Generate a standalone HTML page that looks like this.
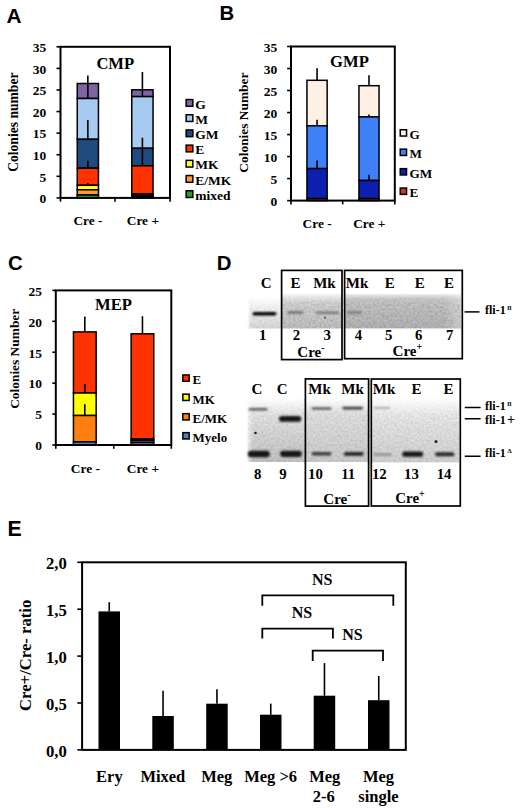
<!DOCTYPE html>
<html><head><meta charset="utf-8"><title>Figure</title>
<style>html,body{margin:0;padding:0;background:#fff;} svg{display:block;}</style>
</head><body>
<svg width="520" height="808" viewBox="0 0 520 808">
<rect x="0" y="0" width="520" height="808" fill="#fff"/>
<text x="6.6" y="22.6" font-size="20.8" text-anchor="start" style="font-family:'Liberation Sans',sans-serif;font-weight:bold" >A</text>
<text x="219.5" y="19.8" font-size="20.4" text-anchor="start" style="font-family:'Liberation Sans',sans-serif;font-weight:bold" >B</text>
<text x="8.0" y="269.7" font-size="20.4" text-anchor="start" style="font-family:'Liberation Sans',sans-serif;font-weight:bold" >C</text>
<text x="216.8" y="269.9" font-size="20.4" text-anchor="start" style="font-family:'Liberation Sans',sans-serif;font-weight:bold" >D</text>
<text x="7.4" y="535.5" font-size="21.3" text-anchor="start" style="font-family:'Liberation Sans',sans-serif;font-weight:bold" >E</text>
<rect x="77.25" y="83.5" width="21.2" height="15.0" fill="#8064A2" stroke="#000" stroke-width="1.5"/>
<rect x="77.25" y="98.5" width="21.2" height="40.8" fill="#A6CAF0" stroke="#000" stroke-width="1.5"/>
<rect x="77.25" y="139.3" width="21.2" height="28.9" fill="#1F4B7F" stroke="#000" stroke-width="1.5"/>
<rect x="77.25" y="168.2" width="21.2" height="17.1" fill="#FF3300" stroke="#000" stroke-width="1.5"/>
<rect x="77.25" y="185.3" width="21.2" height="4.5" fill="#FFFF33" stroke="#000" stroke-width="1.5"/>
<rect x="77.25" y="189.8" width="21.2" height="5.2" fill="#FF9933" stroke="#000" stroke-width="1.5"/>
<rect x="77.25" y="195" width="21.2" height="2.9" fill="#2E9A2E" stroke="#000" stroke-width="1.5"/>
<line x1="87.85" y1="75.4" x2="87.85" y2="98.5" stroke="#000" stroke-width="1.6"/>
<line x1="87.85" y1="120" x2="87.85" y2="139.3" stroke="#000" stroke-width="1.6"/>
<line x1="87.85" y1="160.8" x2="87.85" y2="168.2" stroke="#000" stroke-width="1.6"/>
<line x1="87.85" y1="183" x2="87.85" y2="185.3" stroke="#000" stroke-width="1.6"/>
<rect x="131.75" y="89.8" width="21.3" height="6.8" fill="#8064A2" stroke="#000" stroke-width="1.5"/>
<rect x="131.75" y="96.6" width="21.3" height="51.7" fill="#A6CAF0" stroke="#000" stroke-width="1.5"/>
<rect x="131.75" y="148.3" width="21.3" height="17.5" fill="#1F4B7F" stroke="#000" stroke-width="1.5"/>
<rect x="131.75" y="165.8" width="21.3" height="28.2" fill="#FF3300" stroke="#000" stroke-width="1.5"/>
<rect x="131.75" y="194" width="21.3" height="1.5" fill="#FFFF33" stroke="#000" stroke-width="1.5"/>
<rect x="131.75" y="195.5" width="21.3" height="1.3" fill="#FF9933" stroke="#000" stroke-width="1.5"/>
<rect x="131.75" y="196.8" width="21.3" height="1.1" fill="#2E9A2E" stroke="#000" stroke-width="1.5"/>
<line x1="142.4" y1="72" x2="142.4" y2="96.6" stroke="#000" stroke-width="1.6"/>
<line x1="142.4" y1="137.7" x2="142.4" y2="165.8" stroke="#000" stroke-width="1.6"/>
<rect x="60.5" y="46.8" width="109.5" height="151.10000000000002" fill="none" stroke="#000" stroke-width="2"/>
<line x1="56.5" y1="197.9" x2="60.5" y2="197.9" stroke="#000" stroke-width="1.6"/>
<text x="46.2" y="203.2" font-size="13.5" text-anchor="end" style="font-family:'Liberation Serif',serif;font-weight:bold" >0</text>
<line x1="56.5" y1="176.31" x2="60.5" y2="176.31" stroke="#000" stroke-width="1.6"/>
<text x="46.2" y="181.61" font-size="13.5" text-anchor="end" style="font-family:'Liberation Serif',serif;font-weight:bold" >5</text>
<line x1="56.5" y1="154.73" x2="60.5" y2="154.73" stroke="#000" stroke-width="1.6"/>
<text x="46.2" y="160.03" font-size="13.5" text-anchor="end" style="font-family:'Liberation Serif',serif;font-weight:bold" >10</text>
<line x1="56.5" y1="133.14" x2="60.5" y2="133.14" stroke="#000" stroke-width="1.6"/>
<text x="46.2" y="138.44" font-size="13.5" text-anchor="end" style="font-family:'Liberation Serif',serif;font-weight:bold" >15</text>
<line x1="56.5" y1="111.56" x2="60.5" y2="111.56" stroke="#000" stroke-width="1.6"/>
<text x="46.2" y="116.86" font-size="13.5" text-anchor="end" style="font-family:'Liberation Serif',serif;font-weight:bold" >20</text>
<line x1="56.5" y1="89.97" x2="60.5" y2="89.97" stroke="#000" stroke-width="1.6"/>
<text x="46.2" y="95.27" font-size="13.5" text-anchor="end" style="font-family:'Liberation Serif',serif;font-weight:bold" >25</text>
<line x1="56.5" y1="68.39" x2="60.5" y2="68.39" stroke="#000" stroke-width="1.6"/>
<text x="46.2" y="73.69" font-size="13.5" text-anchor="end" style="font-family:'Liberation Serif',serif;font-weight:bold" >30</text>
<line x1="56.5" y1="46.8" x2="60.5" y2="46.8" stroke="#000" stroke-width="1.6"/>
<text x="46.2" y="52.1" font-size="13.5" text-anchor="end" style="font-family:'Liberation Serif',serif;font-weight:bold" >35</text>
<line x1="60.5" y1="197.9" x2="60.5" y2="201.7" stroke="#000" stroke-width="1.6"/>
<line x1="115" y1="197.9" x2="115" y2="201.7" stroke="#000" stroke-width="1.6"/>
<line x1="170" y1="197.9" x2="170" y2="201.7" stroke="#000" stroke-width="1.6"/>
<text x="88" y="224.9" font-size="13.4" text-anchor="middle" style="font-family:'Liberation Serif',serif;font-weight:bold" >Cre -</text>
<text x="142.9" y="224.9" font-size="13.4" text-anchor="middle" style="font-family:'Liberation Serif',serif;font-weight:bold" >Cre +</text>
<text x="96.4" y="69.4" font-size="16.6" text-anchor="start" style="font-family:'Liberation Serif',serif;font-weight:bold" >CMP</text>
<text transform="translate(17.9,122.2) rotate(-90)" font-size="13.6" text-anchor="middle" style="font-family:'Liberation Serif',serif;font-weight:bold">Colonies number</text>
<rect x="186.15" y="99.55" width="6.7" height="6.7" fill="#8064A2" stroke="#000" stroke-width="1.5"/>
<text x="195.3" y="108.6" font-size="13.5" text-anchor="start" style="font-family:'Liberation Serif',serif;font-weight:bold" >G</text>
<rect x="186.15" y="114.75" width="6.7" height="6.7" fill="#A6CAF0" stroke="#000" stroke-width="1.5"/>
<text x="195.3" y="123.8" font-size="13.5" text-anchor="start" style="font-family:'Liberation Serif',serif;font-weight:bold" >M</text>
<rect x="186.15" y="129.95" width="6.7" height="6.7" fill="#1F4B7F" stroke="#000" stroke-width="1.5"/>
<text x="195.3" y="139.0" font-size="13.5" text-anchor="start" style="font-family:'Liberation Serif',serif;font-weight:bold" >GM</text>
<rect x="186.15" y="145.15" width="6.7" height="6.7" fill="#FF3300" stroke="#000" stroke-width="1.5"/>
<text x="195.3" y="154.2" font-size="13.5" text-anchor="start" style="font-family:'Liberation Serif',serif;font-weight:bold" >E</text>
<rect x="186.15" y="160.35" width="6.7" height="6.7" fill="#FFFF33" stroke="#000" stroke-width="1.5"/>
<text x="195.3" y="169.4" font-size="13.5" text-anchor="start" style="font-family:'Liberation Serif',serif;font-weight:bold" >MK</text>
<rect x="186.15" y="175.55" width="6.7" height="6.7" fill="#FF9933" stroke="#000" stroke-width="1.5"/>
<text x="195.3" y="184.6" font-size="13.5" text-anchor="start" style="font-family:'Liberation Serif',serif;font-weight:bold" >E/MK</text>
<rect x="186.15" y="190.75" width="6.7" height="6.7" fill="#2E9A2E" stroke="#000" stroke-width="1.5"/>
<text x="195.3" y="199.8" font-size="13.5" text-anchor="start" style="font-family:'Liberation Serif',serif;font-weight:bold" >mixed</text>
<rect x="306.95" y="80.3" width="20.2" height="45.5" fill="#FDF0E4" stroke="#000" stroke-width="1.5"/>
<rect x="306.95" y="125.8" width="20.2" height="42.8" fill="#3F7FF7" stroke="#000" stroke-width="1.5"/>
<rect x="306.95" y="168.6" width="20.2" height="30.0" fill="#0C1FAD" stroke="#000" stroke-width="1.5"/>
<rect x="306.95" y="198.6" width="20.2" height="2.0" fill="#E03020" stroke="#000" stroke-width="1.5"/>
<line x1="317.05" y1="68.2" x2="317.05" y2="80.3" stroke="#000" stroke-width="1.6"/>
<line x1="317.05" y1="119.7" x2="317.05" y2="125.8" stroke="#000" stroke-width="1.6"/>
<line x1="317.05" y1="160.5" x2="317.05" y2="168.6" stroke="#000" stroke-width="1.6"/>
<rect x="358.95" y="85.7" width="20.1" height="31.2" fill="#FDF0E4" stroke="#000" stroke-width="1.5"/>
<rect x="358.95" y="116.9" width="20.1" height="63.6" fill="#3F7FF7" stroke="#000" stroke-width="1.5"/>
<rect x="358.95" y="180.5" width="20.1" height="18.1" fill="#0C1FAD" stroke="#000" stroke-width="1.5"/>
<rect x="358.95" y="198.6" width="20.1" height="2.0" fill="#E03020" stroke="#000" stroke-width="1.5"/>
<line x1="369.0" y1="75.2" x2="369.0" y2="85.7" stroke="#000" stroke-width="1.6"/>
<line x1="369.0" y1="114.5" x2="369.0" y2="116.9" stroke="#000" stroke-width="1.6"/>
<line x1="369.0" y1="174.7" x2="369.0" y2="180.5" stroke="#000" stroke-width="1.6"/>
<rect x="291" y="46.5" width="103.80000000000001" height="154.1" fill="none" stroke="#000" stroke-width="2"/>
<line x1="287.1" y1="200.6" x2="291" y2="200.6" stroke="#000" stroke-width="1.6"/>
<text x="277.2" y="205.9" font-size="13.5" text-anchor="end" style="font-family:'Liberation Serif',serif;font-weight:bold" >0</text>
<line x1="287.1" y1="178.59" x2="291" y2="178.59" stroke="#000" stroke-width="1.6"/>
<text x="277.2" y="183.89" font-size="13.5" text-anchor="end" style="font-family:'Liberation Serif',serif;font-weight:bold" >5</text>
<line x1="287.1" y1="156.57" x2="291" y2="156.57" stroke="#000" stroke-width="1.6"/>
<text x="277.2" y="161.87" font-size="13.5" text-anchor="end" style="font-family:'Liberation Serif',serif;font-weight:bold" >10</text>
<line x1="287.1" y1="134.56" x2="291" y2="134.56" stroke="#000" stroke-width="1.6"/>
<text x="277.2" y="139.86" font-size="13.5" text-anchor="end" style="font-family:'Liberation Serif',serif;font-weight:bold" >15</text>
<line x1="287.1" y1="112.54" x2="291" y2="112.54" stroke="#000" stroke-width="1.6"/>
<text x="277.2" y="117.84" font-size="13.5" text-anchor="end" style="font-family:'Liberation Serif',serif;font-weight:bold" >20</text>
<line x1="287.1" y1="90.53" x2="291" y2="90.53" stroke="#000" stroke-width="1.6"/>
<text x="277.2" y="95.83" font-size="13.5" text-anchor="end" style="font-family:'Liberation Serif',serif;font-weight:bold" >25</text>
<line x1="287.1" y1="68.51" x2="291" y2="68.51" stroke="#000" stroke-width="1.6"/>
<text x="277.2" y="73.81" font-size="13.5" text-anchor="end" style="font-family:'Liberation Serif',serif;font-weight:bold" >30</text>
<line x1="287.1" y1="46.5" x2="291" y2="46.5" stroke="#000" stroke-width="1.6"/>
<text x="277.2" y="51.8" font-size="13.5" text-anchor="end" style="font-family:'Liberation Serif',serif;font-weight:bold" >35</text>
<line x1="291" y1="200.6" x2="291" y2="204.4" stroke="#000" stroke-width="1.6"/>
<line x1="342.7" y1="200.6" x2="342.7" y2="204.4" stroke="#000" stroke-width="1.6"/>
<line x1="394.8" y1="200.6" x2="394.8" y2="204.4" stroke="#000" stroke-width="1.6"/>
<text x="317.1" y="227.9" font-size="13.4" text-anchor="middle" style="font-family:'Liberation Serif',serif;font-weight:bold" >Cre -</text>
<text x="369.3" y="227.9" font-size="13.4" text-anchor="middle" style="font-family:'Liberation Serif',serif;font-weight:bold" >Cre +</text>
<text x="330.1" y="67.2" font-size="16.6" text-anchor="start" style="font-family:'Liberation Serif',serif;font-weight:bold" >GMP</text>
<text transform="translate(248.4,122.6) rotate(-90)" font-size="13.4" text-anchor="middle" style="font-family:'Liberation Serif',serif;font-weight:bold">Colonies Number</text>
<rect x="400.25" y="129.75" width="6.3" height="6.3" fill="#FDF0E4" stroke="#000" stroke-width="1.5"/>
<text x="409.6" y="138.9" font-size="13.2" text-anchor="start" style="font-family:'Liberation Serif',serif;font-weight:bold" >G</text>
<rect x="400.25" y="149.15" width="6.3" height="6.3" fill="#3F7FF7" stroke="#000" stroke-width="1.5"/>
<text x="409.6" y="158.3" font-size="13.2" text-anchor="start" style="font-family:'Liberation Serif',serif;font-weight:bold" >M</text>
<rect x="400.25" y="168.65" width="6.3" height="6.3" fill="#0C1FAD" stroke="#000" stroke-width="1.5"/>
<text x="409.6" y="177.8" font-size="13.2" text-anchor="start" style="font-family:'Liberation Serif',serif;font-weight:bold" >GM</text>
<rect x="400.25" y="188.05" width="6.3" height="6.3" fill="#E03020" stroke="#000" stroke-width="1.5"/>
<text x="409.6" y="197.2" font-size="13.2" text-anchor="start" style="font-family:'Liberation Serif',serif;font-weight:bold" >E</text>
<rect x="73.45" y="331.9" width="22.7" height="61.1" fill="#FF3300" stroke="#000" stroke-width="1.5"/>
<rect x="73.45" y="393" width="22.7" height="22.5" fill="#FFFF00" stroke="#000" stroke-width="1.5"/>
<rect x="73.45" y="415.5" width="22.7" height="26.4" fill="#FF8010" stroke="#000" stroke-width="1.5"/>
<rect x="73.45" y="441.9" width="22.7" height="3.1" fill="#4F81BD" stroke="#000" stroke-width="1.5"/>
<line x1="84.8" y1="316.5" x2="84.8" y2="331.9" stroke="#000" stroke-width="1.6"/>
<line x1="84.8" y1="383.9" x2="84.8" y2="393" stroke="#000" stroke-width="1.6"/>
<line x1="84.8" y1="404.2" x2="84.8" y2="415.5" stroke="#000" stroke-width="1.6"/>
<rect x="131.15" y="333.8" width="22.6" height="105.2" fill="#FF3300" stroke="#000" stroke-width="1.5"/>
<rect x="131.15" y="439" width="22.6" height="1.5" fill="#FFFF00" stroke="#000" stroke-width="1.5"/>
<rect x="131.15" y="440.5" width="22.6" height="2.0" fill="#FF8010" stroke="#000" stroke-width="1.5"/>
<rect x="131.15" y="442.5" width="22.6" height="2.5" fill="#4F81BD" stroke="#000" stroke-width="1.5"/>
<line x1="142.45" y1="316.2" x2="142.45" y2="333.8" stroke="#000" stroke-width="1.6"/>
<rect x="55.8" y="290.4" width="115.50000000000001" height="154.60000000000002" fill="none" stroke="#000" stroke-width="2"/>
<line x1="52.3" y1="445.0" x2="55.8" y2="445.0" stroke="#000" stroke-width="1.6"/>
<text x="41.9" y="450.3" font-size="13.5" text-anchor="end" style="font-family:'Liberation Serif',serif;font-weight:bold" >0</text>
<line x1="52.3" y1="414.08" x2="55.8" y2="414.08" stroke="#000" stroke-width="1.6"/>
<text x="41.9" y="419.38" font-size="13.5" text-anchor="end" style="font-family:'Liberation Serif',serif;font-weight:bold" >5</text>
<line x1="52.3" y1="383.16" x2="55.8" y2="383.16" stroke="#000" stroke-width="1.6"/>
<text x="41.9" y="388.46" font-size="13.5" text-anchor="end" style="font-family:'Liberation Serif',serif;font-weight:bold" >10</text>
<line x1="52.3" y1="352.24" x2="55.8" y2="352.24" stroke="#000" stroke-width="1.6"/>
<text x="41.9" y="357.54" font-size="13.5" text-anchor="end" style="font-family:'Liberation Serif',serif;font-weight:bold" >15</text>
<line x1="52.3" y1="321.32" x2="55.8" y2="321.32" stroke="#000" stroke-width="1.6"/>
<text x="41.9" y="326.62" font-size="13.5" text-anchor="end" style="font-family:'Liberation Serif',serif;font-weight:bold" >20</text>
<line x1="52.3" y1="290.4" x2="55.8" y2="290.4" stroke="#000" stroke-width="1.6"/>
<text x="41.9" y="295.7" font-size="13.5" text-anchor="end" style="font-family:'Liberation Serif',serif;font-weight:bold" >25</text>
<line x1="55.8" y1="445" x2="55.8" y2="448.8" stroke="#000" stroke-width="1.6"/>
<line x1="113.75" y1="445" x2="113.75" y2="448.8" stroke="#000" stroke-width="1.6"/>
<line x1="171.3" y1="445" x2="171.3" y2="448.8" stroke="#000" stroke-width="1.6"/>
<text x="85.4" y="473" font-size="13.4" text-anchor="middle" style="font-family:'Liberation Serif',serif;font-weight:bold" >Cre -</text>
<text x="142.9" y="473" font-size="13.4" text-anchor="middle" style="font-family:'Liberation Serif',serif;font-weight:bold" >Cre +</text>
<text x="95.1" y="309.6" font-size="16.6" text-anchor="start" style="font-family:'Liberation Serif',serif;font-weight:bold" >MEP</text>
<text transform="translate(19.0,358.8) rotate(-90)" font-size="13.4" text-anchor="middle" style="font-family:'Liberation Serif',serif;font-weight:bold">Colonies Number</text>
<rect x="182.85" y="374.95" width="6.3" height="6.3" fill="#FF3300" stroke="#000" stroke-width="1.5"/>
<text x="192.5" y="384.3" font-size="13" text-anchor="start" style="font-family:'Liberation Serif',serif;font-weight:bold" >E</text>
<rect x="182.85" y="394.15" width="6.3" height="6.3" fill="#FFFF00" stroke="#000" stroke-width="1.5"/>
<text x="192.5" y="403.5" font-size="13" text-anchor="start" style="font-family:'Liberation Serif',serif;font-weight:bold" >MK</text>
<rect x="182.85" y="413.65" width="6.3" height="6.3" fill="#FF8010" stroke="#000" stroke-width="1.5"/>
<text x="192.5" y="423.0" font-size="13" text-anchor="start" style="font-family:'Liberation Serif',serif;font-weight:bold" >E/MK</text>
<rect x="182.85" y="432.65" width="6.3" height="6.3" fill="#4F81BD" stroke="#000" stroke-width="1.5"/>
<text x="192.5" y="442.0" font-size="13" text-anchor="start" style="font-family:'Liberation Serif',serif;font-weight:bold" >Myelo</text>
<defs>
<linearGradient id="g1l" x1="0" y1="0" x2="0" y2="1">
 <stop offset="0" stop-color="#ffffff"/><stop offset="0.4" stop-color="#f4f4f4"/><stop offset="1" stop-color="#d8d8d8"/></linearGradient>
<linearGradient id="g1" x1="0" y1="0" x2="0" y2="1">
 <stop offset="0" stop-color="#f6f6f6"/><stop offset="0.25" stop-color="#d6d6d6"/><stop offset="1" stop-color="#c2c2c2"/></linearGradient>
<linearGradient id="g2" x1="0" y1="0" x2="0" y2="1">
 <stop offset="0" stop-color="#ececec"/><stop offset="0.15" stop-color="#c8c8c8"/><stop offset="1" stop-color="#b6b6b6"/></linearGradient>
<linearGradient id="g2h" x1="0" y1="0" x2="1" y2="0">
 <stop offset="0.85" stop-color="#fff" stop-opacity="0"/><stop offset="1" stop-color="#fff" stop-opacity="0.35"/></linearGradient>
<linearGradient id="g3" x1="0" y1="0" x2="0" y2="1">
 <stop offset="0" stop-color="#ffffff"/><stop offset="0.25" stop-color="#e6e6e6"/><stop offset="1" stop-color="#c4c4c4"/></linearGradient>
<linearGradient id="g4" x1="0" y1="0" x2="0" y2="1">
 <stop offset="0" stop-color="#ffffff"/><stop offset="0.25" stop-color="#e2e2e2"/><stop offset="1" stop-color="#cdcdcd"/></linearGradient>
<linearGradient id="g5" x1="0" y1="0" x2="0" y2="1">
 <stop offset="0" stop-color="#ffffff"/><stop offset="0.3" stop-color="#eaeaea"/><stop offset="1" stop-color="#d2d2d2"/></linearGradient>
<filter id="blur1" x="-20%" y="-100%" width="140%" height="300%"><feGaussianBlur stdDeviation="0.9"/></filter>
<filter id="noise" x="0" y="0" width="100%" height="100%">
 <feTurbulence type="fractalNoise" baseFrequency="0.45" numOctaves="2" seed="7"/>
 <feColorMatrix type="matrix" values="0 0 0 0 0  0 0 0 0 0  0 0 0 0 0  0.9 0 0 0 -0.3"/>
</filter>
<linearGradient id="fadeG" x1="0" y1="0" x2="0" y2="1"><stop offset="0" stop-color="#fff" stop-opacity="0"/><stop offset="0.3" stop-color="#fff" stop-opacity="1"/></linearGradient>
<linearGradient id="fadeL" x1="0" y1="0" x2="1" y2="0"><stop offset="0" stop-color="#fff" stop-opacity="0"/><stop offset="0.12" stop-color="#fff" stop-opacity="1"/></linearGradient>
<mask id="fadeLM" maskContentUnits="objectBoundingBox"><rect x="0" y="0" width="1" height="1" fill="url(#fadeL)"/></mask>
<mask id="fadeM" maskContentUnits="objectBoundingBox"><rect x="0" y="0" width="1" height="1" fill="url(#fadeG)"/></mask>
</defs>
<rect x="247" y="296" width="34.6" height="32.7" fill="url(#g1l)" mask="url(#fadeLM)"/>
<rect x="282" y="293.7" width="60" height="34.8" fill="url(#g1)"/>
<rect x="345" y="294" width="116" height="34.4" fill="url(#g2)"/>
<rect x="345" y="294" width="116" height="34.4" fill="url(#g2h)"/>
<rect x="282" y="294" width="179" height="34.5" filter="url(#noise)" opacity="0.35" mask="url(#fadeM)"/>
<rect x="249" y="298" width="32" height="30.5" filter="url(#noise)" opacity="0.2" mask="url(#fadeM)"/>
<rect x="252.5" y="311.9" width="24.0" height="3.6" rx="1.8" fill="#000" opacity="1" filter="url(#blur1)"/>
<rect x="287.4" y="311.35" width="16.100000000000023" height="2.5" rx="1.25" fill="#6a6a6a" opacity="1" filter="url(#blur1)"/>
<rect x="315.7" y="311.55" width="23.5" height="2.5" rx="1.25" fill="#7a7a7a" opacity="1" filter="url(#blur1)"/>
<rect x="346.5" y="311.25" width="15.5" height="2.5" rx="1.25" fill="#7e7e7e" opacity="1" filter="url(#blur1)"/>
<rect x="281.6" y="270.4" width="60.4" height="89.2" fill="none" stroke="#000" stroke-width="1.7"/>
<rect x="344.6" y="270.4" width="117.7" height="88.3" fill="none" stroke="#000" stroke-width="1.7"/>
<text x="266.2" y="288.3" font-size="15" text-anchor="middle" style="font-family:'Liberation Serif',serif;font-weight:bold" >C</text>
<text x="295.4" y="288.3" font-size="15" text-anchor="middle" style="font-family:'Liberation Serif',serif;font-weight:bold" >E</text>
<text x="324.4" y="288.3" font-size="15" text-anchor="middle" style="font-family:'Liberation Serif',serif;font-weight:bold" >Mk</text>
<text x="357" y="288.3" font-size="15" text-anchor="middle" style="font-family:'Liberation Serif',serif;font-weight:bold" >Mk</text>
<text x="389.7" y="288.3" font-size="15" text-anchor="middle" style="font-family:'Liberation Serif',serif;font-weight:bold" >E</text>
<text x="419.7" y="288.3" font-size="15" text-anchor="middle" style="font-family:'Liberation Serif',serif;font-weight:bold" >E</text>
<text x="449" y="288.3" font-size="15" text-anchor="middle" style="font-family:'Liberation Serif',serif;font-weight:bold" >E</text>
<text x="262.6" y="340.3" font-size="14.8" text-anchor="middle" style="font-family:'Liberation Serif',serif;font-weight:bold" >1</text>
<text x="296.4" y="340.3" font-size="14.8" text-anchor="middle" style="font-family:'Liberation Serif',serif;font-weight:bold" >2</text>
<text x="327.3" y="340.3" font-size="14.8" text-anchor="middle" style="font-family:'Liberation Serif',serif;font-weight:bold" >3</text>
<text x="358.5" y="340.3" font-size="14.8" text-anchor="middle" style="font-family:'Liberation Serif',serif;font-weight:bold" >4</text>
<text x="388.8" y="340.3" font-size="14.8" text-anchor="middle" style="font-family:'Liberation Serif',serif;font-weight:bold" >5</text>
<text x="418.7" y="340.3" font-size="14.8" text-anchor="middle" style="font-family:'Liberation Serif',serif;font-weight:bold" >6</text>
<text x="449.8" y="340.3" font-size="14.8" text-anchor="middle" style="font-family:'Liberation Serif',serif;font-weight:bold" >7</text>
<text x="297.3" y="356.5" font-size="15" text-anchor="start" style="font-family:'Liberation Serif',serif;font-weight:bold" >Cre<tspan font-size="10" dy="-6">-</tspan></text>
<text x="392.6" y="356.4" font-size="15" text-anchor="start" style="font-family:'Liberation Serif',serif;font-weight:bold" >Cre<tspan font-size="10" dy="-6">+</tspan></text>
<line x1="464.6" y1="311.9" x2="479.5" y2="311.9" stroke="#000" stroke-width="1.5"/>
<text x="485" y="313.8" font-size="12" text-anchor="start" style="font-family:'Liberation Serif',serif;font-weight:bold" >fli-1<tspan font-size="7" dx="1.6" dy="-4.3">fl</tspan></text>
<rect x="246" y="398" width="59.5" height="64" fill="url(#g3)" mask="url(#fadeLM)"/>
<rect x="306" y="397.7" width="62" height="64.3" fill="url(#g4)"/>
<rect x="372" y="396.8" width="87" height="65.6" fill="url(#g5)"/>
<rect x="248" y="398" width="211" height="64" filter="url(#noise)" opacity="0.25" mask="url(#fadeM)"/>
<rect x="248.7" y="407.9" width="18.900000000000034" height="2.6" rx="1.3" fill="#585858" opacity="1" filter="url(#blur1)"/>
<rect x="279" y="416.09999999999997" width="22.19999999999999" height="5.6" rx="2.8" fill="#151515" opacity="1" filter="url(#blur1)"/>
<rect x="247.8" y="450.7" width="22.0" height="6.6" rx="3.3" fill="#151515" opacity="1" filter="url(#blur1)"/>
<rect x="280.1" y="450.7" width="21.799999999999955" height="6.2" rx="3.1" fill="#181818" opacity="1" filter="url(#blur1)"/>
<rect x="311.5" y="407.2" width="20.0" height="2.6" rx="1.3" fill="#5a5a5a" opacity="1" filter="url(#blur1)"/>
<rect x="342.3" y="406.70000000000005" width="20.69999999999999" height="2.8" rx="1.4" fill="#3a3a3a" opacity="1" filter="url(#blur1)"/>
<rect x="311.5" y="452.05" width="20.0" height="3.5" rx="1.75" fill="#3a3a3a" opacity="1" filter="url(#blur1)"/>
<rect x="343.8" y="451.90000000000003" width="20.0" height="3.8" rx="1.9" fill="#222" opacity="1" filter="url(#blur1)"/>
<rect x="373.3" y="406.9" width="17.0" height="2.0" rx="1.0" fill="#ababab" opacity="1" filter="url(#blur1)"/>
<rect x="373.3" y="452.9" width="18.69999999999999" height="3.0" rx="1.5" fill="#999" opacity="1" filter="url(#blur1)"/>
<rect x="402.3" y="451.59999999999997" width="20.80000000000001" height="5.2" rx="2.6" fill="#151515" opacity="1" filter="url(#blur1)"/>
<rect x="435" y="452.2" width="19.399999999999977" height="4" rx="2.0" fill="#2a2a2a" opacity="1" filter="url(#blur1)"/>
<circle cx="255.5" cy="433" r="1.3" fill="#222"/>
<circle cx="325" cy="317.5" r="1" fill="#555"/>
<circle cx="436" cy="441.5" r="1.5" fill="#222"/>
<rect x="305.4" y="378.9" width="63.2" height="127.2" fill="none" stroke="#000" stroke-width="1.7"/>
<rect x="371.3" y="379" width="89" height="127" fill="none" stroke="#000" stroke-width="1.7"/>
<text x="257" y="394.4" font-size="15" text-anchor="middle" style="font-family:'Liberation Serif',serif;font-weight:bold" >C</text>
<text x="282.2" y="394.4" font-size="15" text-anchor="middle" style="font-family:'Liberation Serif',serif;font-weight:bold" >C</text>
<text x="319.5" y="394.4" font-size="15" text-anchor="middle" style="font-family:'Liberation Serif',serif;font-weight:bold" >Mk</text>
<text x="352.5" y="394.4" font-size="15" text-anchor="middle" style="font-family:'Liberation Serif',serif;font-weight:bold" >Mk</text>
<text x="384" y="394.4" font-size="15" text-anchor="middle" style="font-family:'Liberation Serif',serif;font-weight:bold" >Mk</text>
<text x="416.4" y="394.4" font-size="15" text-anchor="middle" style="font-family:'Liberation Serif',serif;font-weight:bold" >E</text>
<text x="448.5" y="394.4" font-size="15" text-anchor="middle" style="font-family:'Liberation Serif',serif;font-weight:bold" >E</text>
<text x="257.79999999999995" y="478.9" font-size="14.8" text-anchor="middle" style="font-family:'Liberation Serif',serif;font-weight:bold" >8</text>
<text x="282.9" y="478.9" font-size="14.8" text-anchor="middle" style="font-family:'Liberation Serif',serif;font-weight:bold" >9</text>
<text x="315.5" y="478.9" font-size="14.8" text-anchor="middle" style="font-family:'Liberation Serif',serif;font-weight:bold" >10</text>
<text x="348.2" y="478.9" font-size="14.8" text-anchor="middle" style="font-family:'Liberation Serif',serif;font-weight:bold" >11</text>
<text x="379.29999999999995" y="478.9" font-size="14.8" text-anchor="middle" style="font-family:'Liberation Serif',serif;font-weight:bold" >12</text>
<text x="411.4" y="478.9" font-size="14.8" text-anchor="middle" style="font-family:'Liberation Serif',serif;font-weight:bold" >13</text>
<text x="444.09999999999997" y="478.9" font-size="14.8" text-anchor="middle" style="font-family:'Liberation Serif',serif;font-weight:bold" >14</text>
<text x="323.3" y="503.5" font-size="15" text-anchor="start" style="font-family:'Liberation Serif',serif;font-weight:bold" >Cre<tspan font-size="10" dy="-6">-</tspan></text>
<text x="395.2" y="503.4" font-size="15" text-anchor="start" style="font-family:'Liberation Serif',serif;font-weight:bold" >Cre<tspan font-size="10" dy="-6">+</tspan></text>
<line x1="464.75" y1="407.5" x2="480.6" y2="407.5" stroke="#000" stroke-width="1.5"/>
<line x1="464.75" y1="418.75" x2="480.6" y2="418.75" stroke="#000" stroke-width="1.5"/>
<line x1="464.75" y1="456.25" x2="480.6" y2="456.25" stroke="#000" stroke-width="1.5"/>
<text x="485" y="409.8" font-size="12" text-anchor="start" style="font-family:'Liberation Serif',serif;font-weight:bold" >fli-1<tspan font-size="7" dx="1.6" dy="-4.3">fl</tspan></text>
<text x="485" y="423.5" font-size="12" text-anchor="start" style="font-family:'Liberation Serif',serif;font-weight:bold" >fli-1<tspan font-size="14" dx="1.3">+</tspan></text>
<text x="485" y="456.9" font-size="12" text-anchor="start" style="font-family:'Liberation Serif',serif;font-weight:bold" >fli-1<tspan font-size="7" dx="1.6" dy="-4.3">Δ</tspan></text>
<rect x="98.5" y="611.4" width="21.5" height="138.5" fill="#000"/>
<line x1="109.25" y1="602.2" x2="109.25" y2="611.4" stroke="#000" stroke-width="1.6"/>
<rect x="152.3" y="716" width="21.5" height="33.89999999999998" fill="#000"/>
<line x1="163.05" y1="690.8" x2="163.05" y2="716" stroke="#000" stroke-width="1.6"/>
<rect x="206.2" y="703.7" width="21.5" height="46.19999999999993" fill="#000"/>
<line x1="216.95" y1="689.2" x2="216.95" y2="703.7" stroke="#000" stroke-width="1.6"/>
<rect x="260" y="714.7" width="21.5" height="35.19999999999993" fill="#000"/>
<line x1="270.75" y1="703.6" x2="270.75" y2="714.7" stroke="#000" stroke-width="1.6"/>
<rect x="313.7" y="695.7" width="21.5" height="54.19999999999993" fill="#000"/>
<line x1="324.45" y1="663.1" x2="324.45" y2="695.7" stroke="#000" stroke-width="1.6"/>
<rect x="368" y="700.2" width="21.5" height="49.69999999999993" fill="#000"/>
<line x1="378.75" y1="676" x2="378.75" y2="700.2" stroke="#000" stroke-width="1.6"/>
<rect x="82.1" y="562.3" width="323.70000000000005" height="187.60000000000002" fill="none" stroke="#000" stroke-width="2"/>
<line x1="77.3" y1="749.9" x2="82.1" y2="749.9" stroke="#000" stroke-width="1.6"/>
<text x="66.8" y="756.8" font-size="16.7" text-anchor="end" style="font-family:'Liberation Serif',serif;font-weight:bold" >0,0</text>
<line x1="77.3" y1="703.0" x2="82.1" y2="703.0" stroke="#000" stroke-width="1.6"/>
<text x="66.8" y="709.9" font-size="16.7" text-anchor="end" style="font-family:'Liberation Serif',serif;font-weight:bold" >0,5</text>
<line x1="77.3" y1="656.1" x2="82.1" y2="656.1" stroke="#000" stroke-width="1.6"/>
<text x="66.8" y="663.0" font-size="16.7" text-anchor="end" style="font-family:'Liberation Serif',serif;font-weight:bold" >1,0</text>
<line x1="77.3" y1="609.2" x2="82.1" y2="609.2" stroke="#000" stroke-width="1.6"/>
<text x="66.8" y="616.1" font-size="16.7" text-anchor="end" style="font-family:'Liberation Serif',serif;font-weight:bold" >1,5</text>
<line x1="77.3" y1="562.3" x2="82.1" y2="562.3" stroke="#000" stroke-width="1.6"/>
<text x="66.8" y="569.2" font-size="16.7" text-anchor="end" style="font-family:'Liberation Serif',serif;font-weight:bold" >2,0</text>
<text transform="translate(30.6,655.3) rotate(-90)" font-size="16.7" text-anchor="middle" style="font-family:'Liberation Serif',serif;font-weight:bold">Cre+/Cre- ratio</text>
<text x="109.4" y="781.8" font-size="16.5" text-anchor="middle" style="font-family:'Liberation Serif',serif;font-weight:bold" >Ery</text>
<text x="162.85" y="781.8" font-size="16.5" text-anchor="middle" style="font-family:'Liberation Serif',serif;font-weight:bold" >Mixed</text>
<text x="216.8" y="781.8" font-size="16.5" text-anchor="middle" style="font-family:'Liberation Serif',serif;font-weight:bold" >Meg</text>
<text x="270.6" y="781.8" font-size="16.5" text-anchor="middle" style="font-family:'Liberation Serif',serif;font-weight:bold" >Meg &gt;6</text>
<text x="324.8" y="781.8" font-size="16.5" text-anchor="middle" style="font-family:'Liberation Serif',serif;font-weight:bold" >Meg</text>
<text x="378.5" y="781.8" font-size="16.5" text-anchor="middle" style="font-family:'Liberation Serif',serif;font-weight:bold" >Meg</text>
<text x="323.8" y="802.3" font-size="16.5" text-anchor="middle" style="font-family:'Liberation Serif',serif;font-weight:bold" >2-6</text>
<text x="378.5" y="802.3" font-size="16.5" text-anchor="middle" style="font-family:'Liberation Serif',serif;font-weight:bold" >single</text>
<path d="M262.3,605.7 L262.3,595.3 L393.3,595.3 L393.3,605.7" fill="none" stroke="#000" stroke-width="1.8"/>
<path d="M262.3,638.5 L262.3,628.7 L332.9,628.7 L332.9,638.5" fill="none" stroke="#000" stroke-width="1.8"/>
<path d="M312.7,661 L312.7,650.7 L383,650.7 L383,661" fill="none" stroke="#000" stroke-width="1.8"/>
<text x="322.3" y="585.4" font-size="16" text-anchor="middle" style="font-family:'Liberation Serif',serif;font-weight:bold" >NS</text>
<text x="302" y="617.8" font-size="16" text-anchor="middle" style="font-family:'Liberation Serif',serif;font-weight:bold" >NS</text>
<text x="352.5" y="640.3" font-size="16" text-anchor="middle" style="font-family:'Liberation Serif',serif;font-weight:bold" >NS</text>
</svg>
</body></html>
